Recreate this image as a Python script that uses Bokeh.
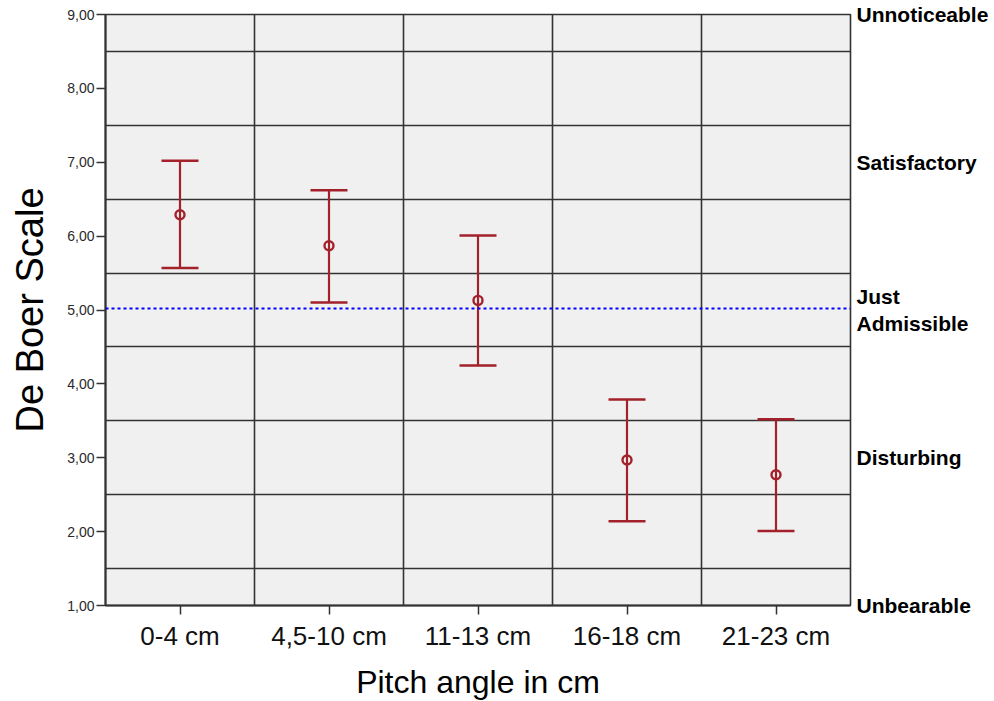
from bokeh.plotting import figure
from bokeh.models import (ColumnDataSource, FactorRange, Range1d, LinearAxis,
                          FixedTicker, Span, Whisker, TeeHead)
from bokeh.embed import file_html
from bokeh.resources import INLINE

# ---------------- data ----------------
categories = ["0-4 cm", "4,5-10 cm", "11-13 cm", "16-18 cm", "21-23 cm"]
means = [6.29, 5.87, 5.13, 2.97, 2.77]
lower = [5.57, 5.10, 4.25, 2.14, 2.01]
upper = [7.02, 6.62, 6.01, 3.79, 3.52]

y_ticks = [1, 2, 3, 4, 5, 6, 7, 8, 9]
y_tick_labels = ["1,00", "2,00", "3,00", "4,00", "5,00", "6,00", "7,00", "8,00", "9,00"]

rating_levels = [1, 3, 5, 7, 9]
rating_labels = ["Unbearable", "Disturbing", "Just\nAdmissible", "Satisfactory", "Unnoticeable"]

band_edges = [1.5, 2.5, 3.5, 4.5, 5.5, 6.5, 7.5, 8.5]
reference_level = 5.02

x_title = "Pitch angle in cm"
y_title = "De Boer Scale"

# ---------------- styles ----------------
FONT = "Liberation Sans"
RED = "#a3212a"
GRID = "#333333"

p = figure(x_range=FactorRange(factors=categories, range_padding=0),
           y_range=Range1d(1, 9),
           frame_width=745, frame_height=591,
           min_border_left=105, min_border_top=14, min_border_right=133, min_border_bottom=80,
           output_backend="svg", toolbar_location=None,
           background_fill_color="#f0f0f0", border_fill_color="white",
           outline_line_color=GRID, outline_line_width=1.6)

# grid
p.xgrid.grid_line_color = None
p.ygrid.ticker = FixedTicker(ticks=band_edges)
p.ygrid.grid_line_color = GRID
p.ygrid.grid_line_width = 1.6
for b in range(1, len(categories)):
    p.add_layout(Span(location=b, dimension="height", line_color=GRID,
                      line_width=1.6, level="underlay"))

# left axis
ya = p.yaxis[0]
ya.ticker = FixedTicker(ticks=y_ticks)
ya.major_label_overrides = {t: l for t, l in zip(y_ticks, y_tick_labels)}
ya.minor_tick_line_color = None
ya.major_tick_in = 0
ya.major_tick_out = 9
ya.major_tick_line_color = GRID
ya.major_tick_line_width = 1.5
ya.axis_line_color = GRID
ya.axis_line_width = 2
ya.major_label_text_font = FONT
ya.major_label_text_font_size = "14px"
ya.major_label_text_color = "#2a2a2a"
ya.major_label_standoff = 2
ya.axis_label = y_title
ya.axis_label_text_font = FONT
ya.axis_label_text_font_style = "normal"
ya.axis_label_text_font_size = "38px"
ya.axis_label_text_color = "black"
ya.axis_label_standoff = 13

# bottom axis
xa = p.xaxis[0]
xa.major_tick_in = 0
xa.major_tick_out = 9
xa.major_tick_line_color = GRID
xa.major_tick_line_width = 1.5
xa.axis_line_color = GRID
xa.axis_line_width = 2
xa.major_label_text_font = FONT
xa.major_label_text_font_size = "26px"
xa.major_label_text_color = "#111111"
xa.major_label_standoff = 6
xa.axis_label = x_title
xa.axis_label_text_font = FONT
xa.axis_label_text_font_style = "normal"
xa.axis_label_text_font_size = "32px"
xa.axis_label_text_color = "black"
xa.axis_label_standoff = 10

# right axis with verbal ratings
ra = LinearAxis(ticker=FixedTicker(ticks=rating_levels))
ra.major_label_overrides = {t: l for t, l in zip(rating_levels, rating_labels)}
ra.axis_line_color = None
ra.major_tick_line_color = None
ra.minor_tick_line_color = None
ra.major_tick_out = 0
ra.major_tick_in = 0
ra.major_label_standoff = 6
ra.major_label_text_font = FONT
ra.major_label_text_font_size = "21px"
ra.major_label_text_font_style = "bold"
ra.major_label_text_color = "black"
p.add_layout(ra, "right")

# reference line
p.add_layout(Span(location=reference_level, dimension="width", line_color="#0000ff",
                  line_width=2, line_dash="3 3"))

# error bars
src = ColumnDataSource(dict(x=categories, mean=means, lower=lower, upper=upper))
w = Whisker(source=src, base="x", upper="upper", lower="lower",
            line_color=RED, line_width=2.2, level="glyph",
            upper_head=TeeHead(size=37, line_color=RED, line_width=2.5),
            lower_head=TeeHead(size=37, line_color=RED, line_width=2.5))
p.add_layout(w)
p.scatter(x="x", y="mean", source=src, marker="circle", size=9,
          fill_color=None, line_color=RED, line_width=2.4)

open("out.html", "w").write(file_html(p, INLINE))
